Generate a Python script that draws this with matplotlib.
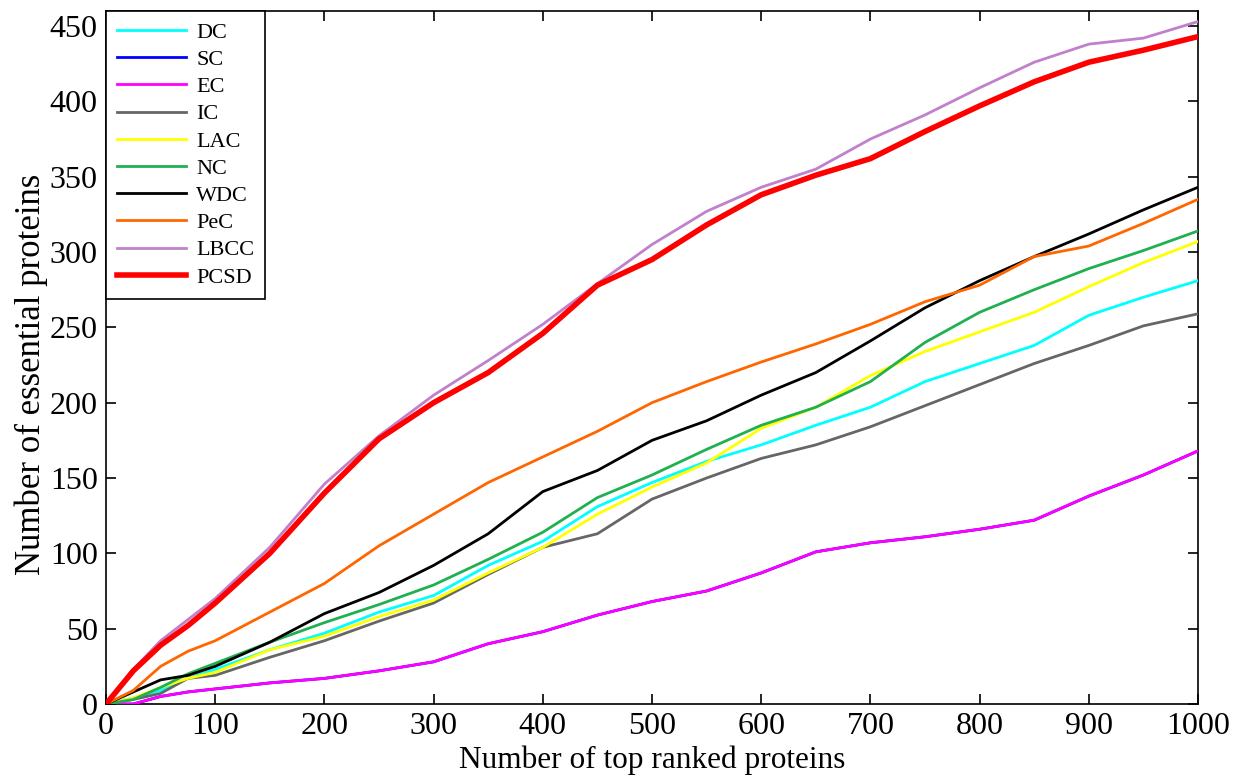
import matplotlib
matplotlib.use("Agg")
import matplotlib.pyplot as plt

plt.rcParams['font.family'] = ['Liberation Serif', 'DejaVu Serif']

x = [0, 25, 50, 75, 100, 150, 200, 250, 300, 350, 400, 450, 500, 550, 600,
     650, 700, 750, 800, 850, 900, 950, 1000]

DC   = [0, 4, 9, 17, 23, 36, 47, 61, 72, 92, 108, 131, 147, 161, 172, 185, 197, 214, 226, 238, 258, 270, 281]
EC   = [0, 0, 5, 8, 10, 14, 17, 22, 28, 40, 48, 59, 68, 75, 87, 101, 107, 111, 116, 122, 138, 152, 168]
SC   = [0, 0, 5, 8, 10, 14, 17, 22, 28, 40, 48, 59, 68, 75, 87, 101, 107, 111, 116, 122, 138, 152, 168]
IC   = [0, 3, 7, 17, 19, 31, 42, 55, 67, 86, 104, 113, 136, 150, 163, 172, 184, 198, 212, 226, 238, 251, 259]
LAC  = [0, 4, 11, 17, 21, 36, 45, 58, 69, 87, 104, 126, 144, 160, 183, 197, 218, 234, 247, 260, 277, 293, 307]
NC   = [0, 3, 11, 20, 27, 41, 54, 66, 79, 96, 114, 137, 152, 169, 185, 197, 214, 240, 260, 275, 289, 301, 314]
WDC  = [0, 8, 16, 19, 25, 41, 60, 74, 92, 113, 141, 155, 175, 188, 205, 220, 241, 263, 281, 297, 312, 328, 343]
PeC  = [0, 9, 25, 35, 42, 61, 80, 105, 126, 147, 164, 181, 200, 214, 227, 239, 252, 267, 278, 297, 304, 319, 335]
LBCC = [0, 23, 42, 56, 70, 104, 146, 178, 205, 228, 252, 279, 305, 327, 343, 355, 375, 391, 409, 426, 438, 442, 453]
PCSD = [0, 22, 39, 52, 67, 100, 140, 176, 200, 220, 246, 278, 295, 318, 338, 351, 362, 380, 397, 413, 426, 434, 443]

xticks = [0, 100, 200, 300, 400, 500, 600, 700, 800, 900, 1000]
yticks = [0, 50, 100, 150, 200, 250, 300, 350, 400, 450]

fig = plt.figure(figsize=(12.46, 7.81), dpi=100)
ax = fig.add_axes([106/1246, 77/781, 1092/1246, 693/781])

series = [
    ("DC", DC, "#00FFFF", 2.0),
    ("SC", SC, "#0000FF", 2.0),
    ("EC", EC, "#FF00FF", 2.0),
    ("IC", IC, "#666666", 2.0),
    ("LAC", LAC, "#FFFF00", 2.0),
    ("NC", NC, "#1FB050", 2.0),
    ("WDC", WDC, "#000000", 2.0),
    ("PeC", PeC, "#FF6600", 2.0),
    ("LBCC", LBCC, "#C080CC", 2.0),
    ("PCSD", PCSD, "#FF0000", 4.0),
]
zorders = {"SC": 2, "EC": 3}
for name, vals, col, lw in series:
    ax.plot(x, vals, color=col, lw=lw, label=name, zorder=zorders.get(name, 4))

ax.set_xlim(0, 1000)
ax.set_ylim(0, 460)
ax.set_xticks(xticks)
ax.set_yticks(yticks)
ax.tick_params(direction='in', length=7, width=1.2, labelsize=23,
               top=True, right=True, pad=6)
for s in ax.spines.values():
    s.set_linewidth(1.2)

ax.set_xlabel("Number of top ranked proteins", fontsize=22.5, labelpad=3)
ax.set_ylabel("Number of essential proteins", fontsize=25, labelpad=4)
ax.yaxis.set_label_coords(-0.053, 0.475)

leg = ax.legend(loc='upper left', bbox_to_anchor=(0, 1), borderaxespad=0,
                fontsize=16, handlelength=3.1, labelspacing=0.3,
                fancybox=False, framealpha=1, edgecolor='black',
                borderpad=0.5, handletextpad=0.45)
leg.get_frame().set_linewidth(1.2)

fig.savefig("out.png", dpi=100)
